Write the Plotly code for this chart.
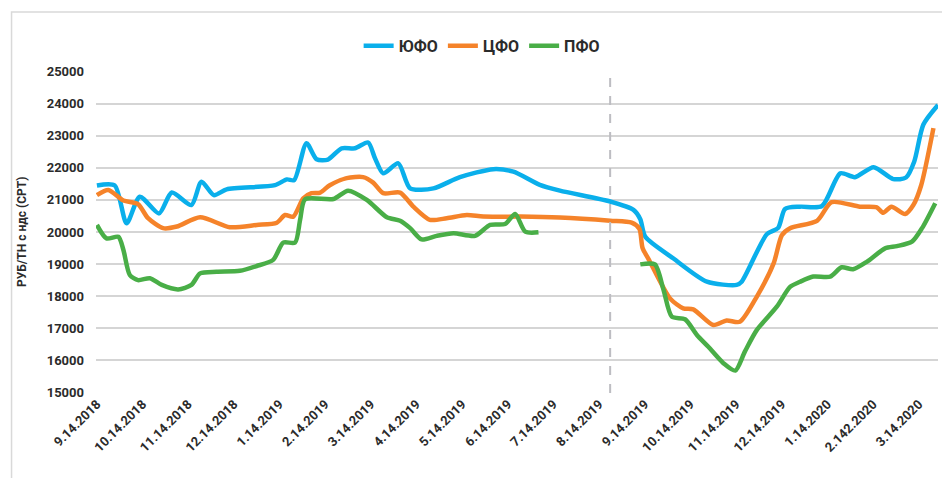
import plotly.graph_objects as go

# Tick labels (one per month position 0..18)
tick_labels = ["9.14.2018", "10.14.2018", "11.14.2018", "12.14.2018", "1.14.2019",
               "2.14.2019", "3.14.2019", "4.14.2019", "5.14.2019", "6.14.2019",
               "7.14.2019", "8.14.2019", "9.14.2019", "10.14.2019", "11.14.2019",
               "12.14.2019", "1.14.2020", "2.142.2020", "3.14.2020"]

# ЮФО series (x in month positions, y in RUB/t)
yufo_x = [0, 0.39, 0.65, 0.94, 1.36, 1.64, 2.07, 2.29, 2.56, 2.84, 3.90, 4.16, 4.32, 4.59,
          4.81, 5.06, 5.36, 5.65, 5.94, 6.09, 6.27, 6.60, 6.86, 7.37, 7.95, 8.68, 9.12,
          9.70, 10.14, 11.24, 11.75, 11.90, 12.01, 12.62, 13.36, 14.01, 14.12, 14.67,
          14.92, 15.07, 15.40, 15.88, 16.28, 16.60, 17.01, 17.44, 17.72, 17.90, 18.10, 18.42]
yufo_y = [21450, 21450, 20270, 21100, 20580, 21230, 20840, 21570, 21150, 21330, 21460, 21640,
          21620, 22770, 22270, 22260, 22610, 22610, 22790, 22300, 21830, 22140, 21360, 21360,
          21710, 21960, 21880, 21470, 21290, 20950, 20690, 20400, 19850, 19180, 18450, 18350,
          18450, 19930, 20130, 20720, 20790, 20810, 21830, 21710, 22020, 21650, 21700, 22200,
          23350, 23960]

# ЦФО series
cfo_x = [0, 0.25, 0.58, 0.90, 1.12, 1.45, 1.75, 2.26, 2.91, 3.50, 3.94, 4.12, 4.30, 4.52,
         4.70, 4.89, 5.10, 5.47, 5.83, 6.05, 6.27, 6.64, 6.93, 7.29, 7.66, 8.10, 8.46, 9.27,
         10.14, 11.24, 11.71, 11.88, 11.95, 12.09, 12.55, 12.84, 13.06, 13.50, 13.79, 14.08,
         14.45, 14.82, 15.00, 15.18, 15.77, 16.09, 16.71, 17.08, 17.22, 17.40, 17.70, 17.88,
         18.05, 18.32]
cfo_y = [21150, 21310, 20980, 20870, 20430, 20120, 20170, 20460, 20150, 20220, 20290, 20530,
         20480, 21050, 21210, 21230, 21460, 21680, 21710, 21540, 21210, 21230, 20790, 20380,
         20430, 20530, 20480, 20480, 20450, 20350, 20290, 20100, 19500, 19130, 17930, 17620,
         17590, 17100, 17240, 17200, 17980, 19020, 19900, 20120, 20350, 20930, 20790, 20770,
         20600, 20790, 20560, 20840, 21450, 23240]

# ПФО series (None = gap in data)
pfo_x = [0, 0.21, 0.47, 0.58, 0.72, 0.90, 1.16, 1.42, 1.78, 2.07, 2.26, 2.62, 3.13, 3.50,
         3.86, 4.08, 4.34, 4.45, 4.56, 5.18, 5.50, 5.91, 6.35, 6.64, 6.86, 7.11, 7.44, 7.81,
         8.28, 8.61, 8.94, 9.16, 9.38, 9.67, 10.5, 11.90, 12.22, 12.41, 12.59, 12.88, 13.14,
         13.39, 13.72, 13.98, 14.19, 14.45, 14.89, 15.18, 15.40, 15.69, 16.06, 16.31, 16.56,
         16.86, 17.26, 17.52, 17.85, 18.07, 18.36]
pfo_y = [20220, 19800, 19850, 19440, 18660, 18500, 18560, 18350, 18210, 18350, 18710, 18760,
         18790, 18940, 19130, 19670, 19670, 20380, 21020, 21030, 21290, 21000, 20460, 20350,
         20120, 19770, 19880, 19960, 19880, 20220, 20250, 20560, 20010, 19990, None, 18990,
         18990, 18190, 17360, 17280, 16790, 16420, 15910, 15680, 16270, 16940, 17670, 18290,
         18450, 18610, 18610, 18900, 18840, 19070, 19490, 19560, 19700, 20120, 20900]

divider_x = 11.24

FONT = "Roboto, Liberation Sans Narrow, DejaVu Sans Condensed, sans-serif"
TXT = "#2b2b2b"

fig = go.Figure()
for name, xs, ys, col in [("ЮФО", yufo_x, yufo_y, "#0AAFEB"),
                          ("ЦФО", cfo_x, cfo_y, "#F5832A"),
                          ("ПФО", pfo_x, pfo_y, "#49AE47")]:
    fig.add_trace(go.Scatter(x=xs, y=ys, name=name, mode="lines",
                             line=dict(color=col, width=4.5, shape="spline", smoothing=0.7),
                             connectgaps=False))

fig.add_shape(type="line", xref="x", yref="paper", x0=divider_x, x1=divider_x, y0=0, y1=1,
              line=dict(color="#BDBDC2", width=2, dash="dash"))

# outer frame
fig.add_shape(type="rect", xref="paper", yref="paper", x0=-0.1003, x1=1.1, y0=-0.4, y1=1.183,
              line=dict(color="#D9D9D9", width=1.5), fillcolor="rgba(0,0,0,0)")

fig.add_annotation(text="РУБ/ТН с ндс (CPT)", xref="paper", yref="paper", x=-0.0879, y=0.5,
                   xanchor="center", yanchor="middle", textangle=-90, showarrow=False,
                   font=dict(family=FONT, size=12, color=TXT, weight="bold"))

# page body adds an 8px offset, so the figure is 8px smaller on each side
fig.update_layout(
    width=942, height=470,
    margin=dict(l=88, r=12, t=63, b=85, autoexpand=False),
    paper_bgcolor="white", plot_bgcolor="white",
    font=dict(family=FONT, color=TXT),
    showlegend=True,
    legend=dict(orientation="h", x=0.458, xanchor="center", y=1.078, yanchor="middle",
                font=dict(family=FONT, size=16, color=TXT, weight="bold"), itemwidth=30,
                bgcolor="rgba(0,0,0,0)"),
    xaxis=dict(range=[-0.02, 18.42], tickmode="array", tickvals=list(range(len(tick_labels))),
               ticktext=tick_labels, tickangle=-45, showgrid=False, zeroline=False,
               showline=False, ticks="", automargin=False,
               tickfont=dict(family=FONT, size=13, color=TXT, weight="bold")),
    yaxis=dict(range=[14980, 25020], tickmode="array",
               tickvals=list(range(15000, 25001, 1000)), tickformat="d", showgrid=True,
               gridcolor="#D5D5D5", gridwidth=1.5, zeroline=False, showline=False, ticks="",
               automargin=False,
               tickfont=dict(family=FONT, size=13, color=TXT, weight="bold"),
               ticklabelstandoff=11),
)

fig.write_html("out.html")
